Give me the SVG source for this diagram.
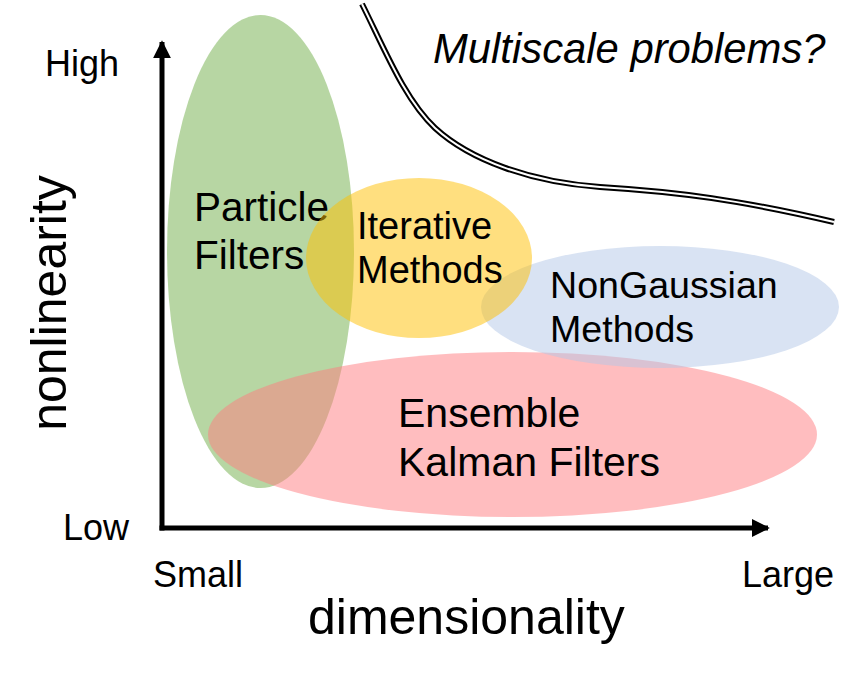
<svg xmlns="http://www.w3.org/2000/svg" width="860" height="679" viewBox="0 0 860 679">
  <style>
    text { font-family: "Liberation Sans", Arial, sans-serif; fill: #000; }
    .lbl { font-size: 40.5px; }
    .lbl2 { font-size: 38px; }
    .ax { font-size: 36px; }
    .title { font-size: 50px; }
  </style>
  <defs>
    <marker id="arr" viewBox="0 0 10 10" refX="9" refY="5" markerWidth="3.6" markerHeight="3.6" orient="auto" markerUnits="strokeWidth">
      <path d="M0,0 L10,5 L0,10 z" fill="#000"/>
    </marker>
  </defs>
  <rect width="860" height="679" fill="#fff"/>

  <g id="particle-filters">
    <ellipse cx="260.5" cy="251.5" rx="93.5" ry="236.5" fill="#70ad47" fill-opacity="0.5"/>
    <text class="lbl" x="194" y="221">Particle</text>
    <text class="lbl" x="194" y="269">Filters</text>
  </g>

  <g id="ensemble-kalman-filters">
    <ellipse cx="512.5" cy="434.5" rx="304.5" ry="82.5" fill="#ff7c80" fill-opacity="0.5"/>
    <text class="lbl" x="398" y="427" style="font-size:41px">Ensemble</text>
    <text class="lbl" x="398" y="476" style="font-size:41px">Kalman Filters</text>
  </g>

  <g id="nongaussian-methods">
    <ellipse cx="660" cy="307" rx="179" ry="61" fill="#b4c7e7" fill-opacity="0.5"/>
    <text class="lbl2" x="550" y="298" style="font-size:37.6px">NonGaussian</text>
    <text class="lbl2" x="550" y="342" style="font-size:37.6px">Methods</text>
  </g>

  <g id="iterative-methods">
    <ellipse cx="419" cy="258" rx="113" ry="80" fill="#ffc000" fill-opacity="0.5"/>
    <text class="lbl2" x="357" y="239">Iterative</text>
    <text class="lbl2" x="357" y="283">Methods</text>
  </g>

  <g id="multiscale">
    <path d="M362,4 C385,50 405,100 435,128 C470,160 530,182 600,187 C680,192 740,200 834,222" fill="none" stroke="#000" stroke-width="6"/>
    <path d="M362,4 C385,50 405,100 435,128 C470,160 530,182 600,187 C680,192 740,200 834,222" fill="none" stroke="#fff" stroke-width="2"/>
    <text x="433" y="63" style="font-size:41.8px;font-style:italic">Multiscale problems?</text>
  </g>

  <g id="connectors">
    <path d="M162,530.5 L162,42" fill="none" stroke="#000" stroke-width="5" marker-end="url(#arr)"/>
    <path d="M159.5,528 L768,528" fill="none" stroke="#000" stroke-width="5" marker-end="url(#arr)"/>
  </g>

  <g id="axis-labels">
    <text class="ax" x="45" y="76">High</text>
    <text class="ax" x="63" y="540">Low</text>
    <text class="ax" x="153" y="587">Small</text>
    <text class="ax" x="742" y="587">Large</text>
    <text class="title" x="308" y="634">dimensionality</text>
    <text class="title" transform="translate(66,303) rotate(-90)" text-anchor="middle">nonlinearity</text>
  </g>
</svg>
